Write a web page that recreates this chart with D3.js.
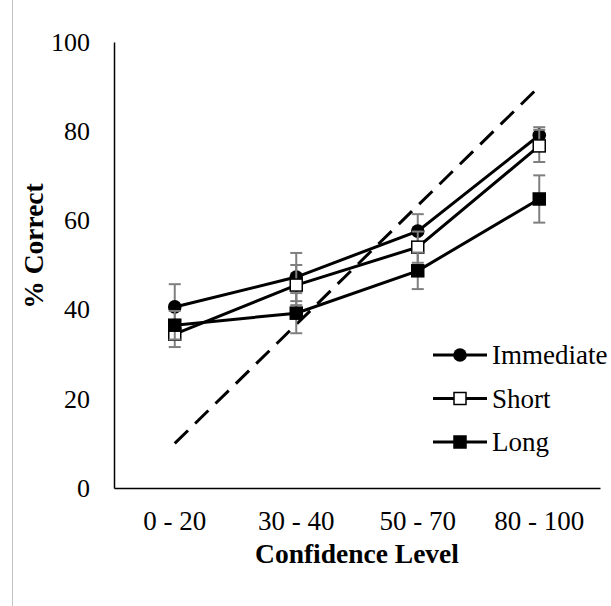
<!DOCTYPE html>
<html>
<head>
<meta charset="utf-8">
<script src="https://cdn.jsdelivr.net/npm/d3@7"></script>
<style>
  body { margin: 0; background: #fff; }
  svg { display: block; }
  svg text { font-family: "Liberation Serif", "Times New Roman", serif; fill: #000; }
</style>
</head>
<body>
<div id="chart"></div>
<script>
// Data
const categories = ["0 - 20", "30 - 40", "50 - 70", "80 - 100"];
const immediate = [40.6, 47.3, 57.6, 79.1];
const immediateErr = [5.1, 5.4, 3.8, 1.8];
const short = [34.5, 45.5, 54.0, 76.7];
const shortErr = [2.9, 4.5, 3.5, 3.6];
const long = [36.5, 39.2, 48.7, 64.8];
const longErr = [3.2, 4.5, 4.1, 5.3];
const reference = [10, 90]; // dashed line from first to last category
const yTicks = [0, 20, 40, 60, 80, 100];

const series = [
  { name: "Immediate", values: immediate, err: immediateErr, marker: "circle" },
  { name: "Short", values: short, err: shortErr, marker: "open" },
  { name: "Long", values: long, err: longErr, marker: "filled" }
];

const WIDTH = 611, HEIGHT = 606;
const MARGIN = { LEFT: 114, RIGHT: 11, TOP: 42, BOTTOM: 118 };

const svg = d3.select("#chart").append("svg")
  .attr("width", WIDTH)
  .attr("height", HEIGHT);

// faint border on the left
svg.append("line")
  .attr("x1", 12.5).attr("x2", 12.5)
  .attr("y1", 0).attr("y2", HEIGHT)
  .attr("stroke", "#c4c4c4")
  .attr("stroke-width", 1);

// Scales
const x = d3.scaleBand()
  .domain(categories)
  .range([MARGIN.LEFT, WIDTH - MARGIN.RIGHT])
  .padding(0);
const cx = d => x(d) + x.bandwidth() / 2;

const y = d3.scaleLinear()
  .domain([0, 100])
  .range([HEIGHT - MARGIN.BOTTOM, MARGIN.TOP]);

// Axes
const yAxis = svg.append("g")
  .attr("transform", `translate(${MARGIN.LEFT}, 0)`)
  .call(d3.axisLeft(y).tickValues(yTicks).tickSize(0).tickPadding(24));

const xAxis = svg.append("g")
  .attr("transform", `translate(0, ${HEIGHT - MARGIN.BOTTOM})`)
  .call(d3.axisBottom(x).tickSize(0).tickPadding(23));

[yAxis, xAxis].forEach(a => {
  a.attr("font-family", null).attr("font-size", null);
  a.select(".domain").attr("stroke", "#000").attr("stroke-width", 1.5);
});
yAxis.selectAll("text").style("font-size", "26px");
xAxis.selectAll("text").style("font-size", "27px");

// Axis titles
svg.append("text")
  .attr("x", (MARGIN.LEFT + WIDTH - MARGIN.RIGHT) / 2)
  .attr("y", 563)
  .attr("text-anchor", "middle")
  .style("font-size", "27.5px")
  .style("font-weight", "bold")
  .text("Confidence Level");

svg.append("text")
  .attr("transform", "translate(43, 246) rotate(-90)")
  .attr("text-anchor", "middle")
  .style("font-size", "27.5px")
  .style("font-weight", "bold")
  .text("% Correct");

// Dashed reference line
svg.append("line")
  .attr("x1", cx(categories[0]))
  .attr("y1", y(reference[0]))
  .attr("x2", cx(categories[categories.length - 1]))
  .attr("y2", y(reference[1]))
  .attr("stroke", "#000")
  .attr("stroke-width", 3)
  .attr("stroke-dasharray", "18.5,10");

const line = d3.line()
  .x((d, i) => cx(categories[i]))
  .y(d => y(d));

function drawMarker(g, type, px, py) {
  if (type === "circle") {
    g.append("circle")
      .attr("cx", px).attr("cy", py).attr("r", 6.8)
      .attr("fill", "#000");
  } else {
    const s = 12;
    g.append("rect")
      .attr("x", px - s / 2).attr("y", py - s / 2)
      .attr("width", s).attr("height", s)
      .attr("fill", type === "open" ? "#fff" : "#000")
      .attr("stroke", "#000")
      .attr("stroke-width", 1.5);
  }
}

// Series
series.forEach(s => {
  const g = svg.append("g");

  // error bars
  s.values.forEach((v, i) => {
    const px = cx(categories[i]);
    const hi = y(v + s.err[i]), lo = y(v - s.err[i]);
    g.append("line")
      .attr("x1", px).attr("x2", px)
      .attr("y1", hi).attr("y2", lo)
      .attr("stroke", "#7f7f7f").attr("stroke-width", 2);
    [hi, lo].forEach(cy => {
      g.append("line")
        .attr("x1", px - 6).attr("x2", px + 6)
        .attr("y1", cy).attr("y2", cy)
        .attr("stroke", "#7f7f7f").attr("stroke-width", 2);
    });
  });

  g.append("path")
    .datum(s.values)
    .attr("d", line)
    .attr("fill", "none")
    .attr("stroke", "#000")
    .attr("stroke-width", 3);

  s.values.forEach((v, i) => drawMarker(g, s.marker, cx(categories[i]), y(v)));
});

// Legend
const legend = svg.append("g");
series.forEach((s, i) => {
  const ly = 355 + i * 43.5;
  legend.append("line")
    .attr("x1", 433).attr("x2", 487)
    .attr("y1", ly).attr("y2", ly)
    .attr("stroke", "#000").attr("stroke-width", 3);
  drawMarker(legend, s.marker, 460, ly);
  legend.append("text")
    .attr("x", 492)
    .attr("y", ly)
    .attr("dy", "0.35em")
    .style("font-size", "27px")
    .text(s.name);
});
</script>
</body>
</html>
